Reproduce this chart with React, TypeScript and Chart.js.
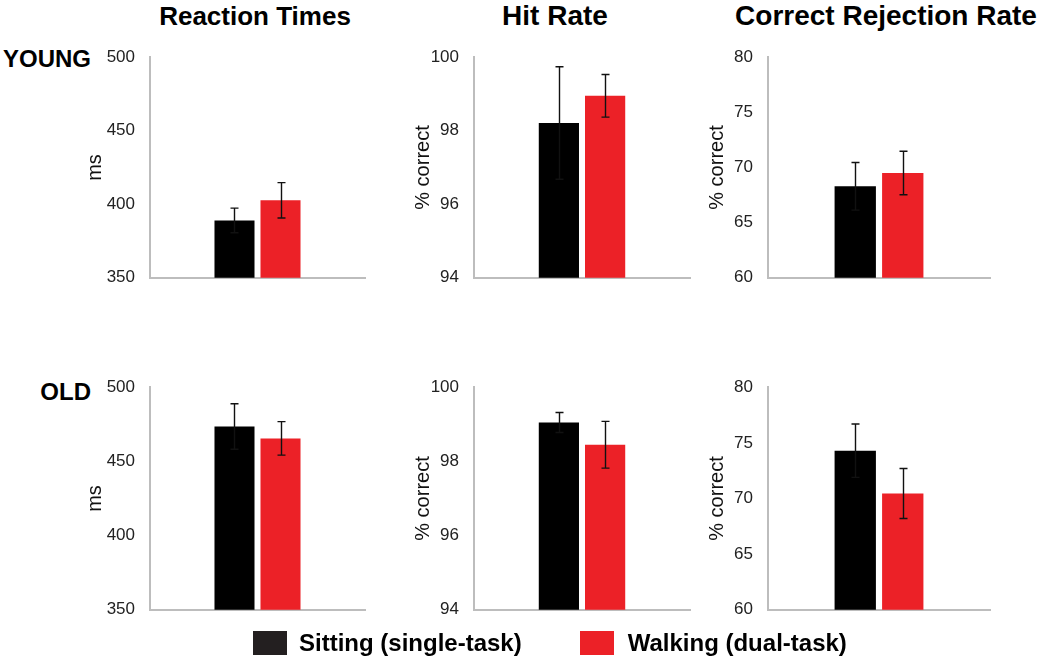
import React, { useEffect, useRef } from "react";
import { Chart, registerables } from "chart.js";

Chart.register(...registerables);

// ---------- data ----------
const groups = ["YOUNG", "OLD"];
const measures = ["Reaction Times", "Hit Rate", "Correct Rejection Rate"];
const axisTitles = ["ms", "% correct", "% correct"];
const yMin = [350, 94, 60];
const yMax = [500, 100, 80];
const yStep = [50, 2, 5];
const conditions = ["Sitting (single-task)", "Walking (dual-task)"];

const sittingYoung = [389, 98.21, 68.3];
const walkingYoung = [402.7, 98.95, 69.5];
const sittingYoungErr = [8.4, 1.53, 2.16];
const walkingYoungErr = [12, 0.58, 1.97];

const sittingOld = [473.5, 99.05, 74.3];
const walkingOld = [465.5, 98.45, 70.45];
const sittingOldErr = [15.3, 0.27, 2.4];
const walkingOldErr = [11.3, 0.63, 2.25];

// ---------- style / layout ----------
const FONT = '"Liberation Sans", Arial, Helvetica, sans-serif';
const BLACK = "#000000";
const RED = "#ec2127";
const AXIS = "#bdbdbd";
const axisX = [150, 474, 768];
const axisEnd = [365, 690, 990];
const rowTop = [57, 387];
const rowBottom = [278, 610];
const yScaleWidth = 70;
const tickFont = 17;
const tickPad = 15;
// Chart.js reserves half a label line plus tick padding above/below the plot
const padV = Math.round((tickFont * 1.2) / 2 + tickPad);
const padR = 6;
const titleOffset = [15, 19, 19];

const errorBarPlugin = {
  id: "errorBars",
  afterDatasetsDraw(chart: any, _args: any, opts: any) {
    const ctx = chart.ctx;
    const yScale = chart.scales.y;
    const errs: number[][] = opts.errors || [];
    chart.data.datasets.forEach((ds: any, i: number) => {
      const meta = chart.getDatasetMeta(i);
      meta.data.forEach((bar: any, j: number) => {
        const v = ds.data[j];
        const e = (errs[i] || [])[j] || 0;
        const x = Math.round(bar.x) + 0.5;
        const yT = yScale.getPixelForValue(v + e);
        const yB = yScale.getPixelForValue(v - e);
        ctx.save();
        ctx.strokeStyle = "#111111";
        ctx.lineWidth = 1.4;
        ctx.beginPath();
        ctx.moveTo(x, yT);
        ctx.lineTo(x, yB);
        ctx.moveTo(x - 4, yT);
        ctx.lineTo(x + 4, yT);
        ctx.moveTo(x - 4, yB);
        ctx.lineTo(x + 4, yB);
        ctx.stroke();
        ctx.restore();
      });
    });
  },
};

function Panel(props: {
  col: number;
  row: number;
  sit: number;
  walk: number;
  sitErr: number;
  walkErr: number;
}) {
  const ref = useRef<HTMLCanvasElement | null>(null);
  const { col, row } = props;
  const left = axisX[col] - yScaleWidth;
  const top = rowTop[row] - padV;
  const width = axisEnd[col] - axisX[col] + yScaleWidth + padR;
  const height = rowBottom[row] - rowTop[row] + 2 * padV;

  useEffect(() => {
    if (!ref.current) return;
    const titleSize = 20;
    const chart = new Chart(ref.current, {
      type: "bar",
      data: {
        labels: [""],
        datasets: [
          {
            label: conditions[0],
            data: [props.sit],
            backgroundColor: BLACK,
            barPercentage: 0.87,
            categoryPercentage: 0.428,
          },
          {
            label: conditions[1],
            data: [props.walk],
            backgroundColor: RED,
            barPercentage: 0.87,
            categoryPercentage: 0.428,
          },
        ],
      },
      plugins: [errorBarPlugin],
      options: {
        animation: false,
        responsive: false,
        devicePixelRatio: 1,
        layout: { padding: { left: 0, right: padR, top: 0, bottom: 0 } },
        plugins: {
          legend: { display: false },
          tooltip: { enabled: false },
          errorBars: { errors: [[props.sitErr], [props.walkErr]] },
        } as any,
        scales: {
          x: {
            grid: { display: false, drawTicks: false },
            border: { display: true, color: AXIS, width: 2 },
            ticks: { display: false },
            afterFit: (s: any) => {
              s.height = 0;
            },
          },
          y: {
            min: yMin[col],
            max: yMax[col],
            grid: { display: false, drawTicks: false },
            border: { display: true, color: AXIS, width: 2 },
            ticks: {
              stepSize: yStep[col],
              padding: tickPad,
              color: "#222222",
              font: { family: FONT, size: tickFont },
            },
            title: {
              display: true,
              text: axisTitles[col],
              color: "#111111",
              font: { family: FONT, size: titleSize },
              padding: { top: titleOffset[col] - (titleSize * 1.2) / 2, bottom: 0 },
            },
            afterFit: (s: any) => {
              s.width = yScaleWidth;
            },
          },
        },
      },
    });
    return () => chart.destroy();
  }, []);

  return (
    <canvas
      ref={ref}
      width={width}
      height={height}
      style={{ position: "absolute", left, top, width, height }}
    />
  );
}

const titleCenters = [255, 555, 886];
const titleSizes = [26, 28, 28];
const rowLabelY = [59, 392];

export default function App() {
  const rows = [
    { sit: sittingYoung, walk: walkingYoung, sitErr: sittingYoungErr, walkErr: walkingYoungErr },
    { sit: sittingOld, walk: walkingOld, sitErr: sittingOldErr, walkErr: walkingOldErr },
  ];
  return (
    <div
      style={{
        position: "absolute",
        left: 0,
        top: 0,
        width: 1050,
        height: 662,
        background: "#ffffff",
        fontFamily: FONT,
        overflow: "hidden",
      }}
    >
      {measures.map((m, i) => (
        <div
          key={m}
          style={{
            position: "absolute",
            left: titleCenters[i] - 200,
            width: 400,
            top: 1,
            height: 30,
            lineHeight: "30px",
            textAlign: "center",
            fontWeight: "bold",
            fontSize: titleSizes[i],
            color: "#000",
            whiteSpace: "nowrap",
          }}
        >
          {m}
        </div>
      ))}
      {groups.map((g, i) => (
        <div
          key={g}
          style={{
            position: "absolute",
            left: 0,
            width: 91,
            top: rowLabelY[i] - 15,
            height: 30,
            lineHeight: "30px",
            textAlign: "right",
            fontWeight: "bold",
            fontSize: 24,
            color: "#000",
          }}
        >
          {g}
        </div>
      ))}
      {rows.map((r, ri) =>
        measures.map((_, ci) => (
          <Panel
            key={ri + "-" + ci}
            col={ci}
            row={ri}
            sit={r.sit[ci]}
            walk={r.walk[ci]}
            sitErr={r.sitErr[ci]}
            walkErr={r.walkErr[ci]}
          />
        ))
      )}
      <div
        style={{
          position: "absolute",
          left: 253,
          top: 629,
          height: 28,
          display: "flex",
          alignItems: "center",
          fontWeight: "bold",
          fontSize: 24,
          color: "#000",
          whiteSpace: "nowrap",
        }}
      >
        <span style={{ display: "inline-block", width: 34, height: 24, background: "#231f20", marginRight: 12 }} />
        <span>{conditions[0]}</span>
        <span style={{ display: "inline-block", width: 34, height: 24, background: RED, marginLeft: 58, marginRight: 14 }} />
        <span>{conditions[1]}</span>
      </div>
    </div>
  );
}
